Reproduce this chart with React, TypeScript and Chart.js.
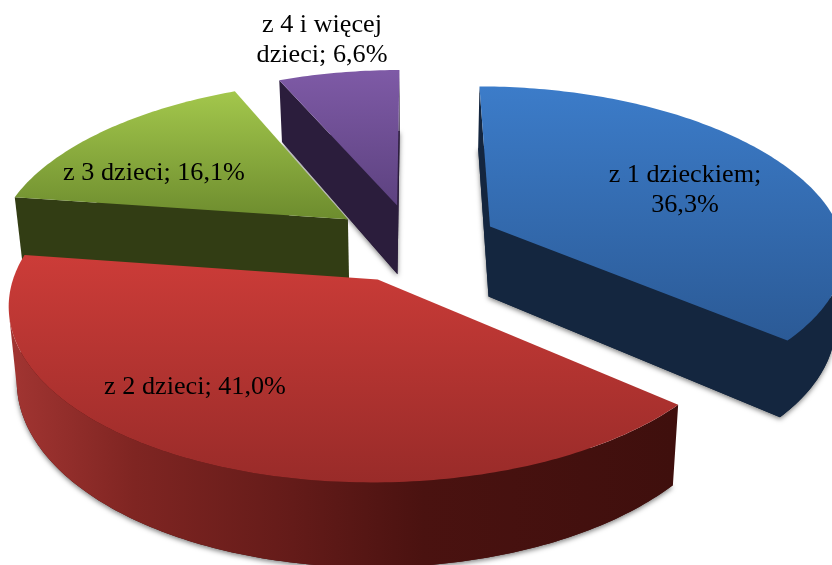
import React, { useEffect, useRef } from "react";
import { Chart, registerables } from "chart.js";

Chart.register(...registerables);

const categories = ["z 1 dzieckiem", "z 2 dzieci", "z 3 dzieci", "z 4 i więcej dzieci"];
const shares = [36.3, 41.0, 16.1, 6.6];
const labelLines = [
  ["z 1 dzieckiem;", "36,3%"],
  ["z 2 dzieci; 41,0%"],
  ["z 3 dzieci; 16,1%"],
  ["z 4 i więcej", "dzieci; 6,6%"],
];
const labelAnchors = [
  [685, 182],
  [195, 394],
  [154, 180],
  [322, 32],
];
const topFrom = ["#3c7cc9", "#cc3c38", "#a3c74c", "#7e5aa6"];
const topTo = ["#2b5a96", "#992b29", "#6d8c2e", "#5d4280"];
const wallColors = ["#14263f", "#43100e", "#323d14", "#2b1d3c"];
const redWallStops: [number, string][] = [
  [0, "#a03431"],
  [0.18, "#7f2522"],
  [0.42, "#641b19"],
  [0.62, "#4a1210"],
  [1, "#3f0f0d"],
];
const drawOrder = [3, 0, 2, 1];

const CX = 414;
const CY = 242.5;
const RADIUS = 354;
const SQUASH_BACK = 0.46;
const SQUASH_FRONT = 0.465;
const PERSP = 0.00038;
const DEPTH = 71;
const SHRINK = 0.02;
const EXPLODE = 85;

type P = [number, number];

function project(u: number, v: number, z: number): P {
  const w = 1 / (1 - PERSP * v);
  const wx = v < 0 ? Math.pow(w, 1.2) : w;
  const f = 1 - (SHRINK * z) / DEPTH;
  const s = v < 0 ? SQUASH_BACK : SQUASH_FRONT;
  return [CX + u * wx * f, CY + (s * v + z) * w];
}

function addPoly(ctx: CanvasRenderingContext2D, pts: P[]) {
  pts.forEach((p, i) => (i ? ctx.lineTo(p[0], p[1]) : ctx.moveTo(p[0], p[1])));
  ctx.closePath();
}

function area(pts: P[]) {
  let s = 0;
  for (let i = 0; i < pts.length; i++) {
    const a = pts[i];
    const b = pts[(i + 1) % pts.length];
    s += a[0] * b[1] - b[0] * a[1];
  }
  return s;
}

const pie3d = {
  id: "pie3d",
  beforeDatasetDraw(chart: any) {
    const ctx: CanvasRenderingContext2D = chart.ctx;
    const arcs = chart.getDatasetMeta(0).data;
    const outlines = arcs.map((el: any) => {
      const t0 = el.startAngle + Math.PI / 2;
      const t1 = el.endAngle + Math.PI / 2;
      const mid = (t0 + t1) / 2;
      const ou = Math.sin(mid) * el.options.offset;
      const ov = -Math.cos(mid) * el.options.offset;
      const n = Math.max(8, Math.round((t1 - t0) * 60));
      const pts: P[] = [[ou, ov]];
      for (let i = 0; i <= n; i++) {
        const t = t0 + ((t1 - t0) * i) / n;
        pts.push([ou + Math.sin(t) * RADIUS, ov - Math.cos(t) * RADIUS]);
      }
      return pts;
    });

    ctx.save();
    for (const i of drawOrder) {
      const world = outlines[i];
      const top: P[] = world.map((p: P) => project(p[0], p[1], 0));
      const bottom: P[] = world.map((p: P) => project(p[0], p[1], DEPTH));
      const ys = top.map((p) => p[1]);
      const xs = bottom.map((p) => p[0]);

      ctx.save();
      ctx.shadowColor = "rgba(0,0,0,0.5)";
      ctx.shadowBlur = 5;
      ctx.shadowOffsetX = 0;
      ctx.shadowOffsetY = 2;
      ctx.fillStyle = wallColors[i];
      ctx.beginPath();
      addPoly(ctx, bottom);
      ctx.fill();
      ctx.restore();

      let wall: any = wallColors[i];
      if (i === 1) {
        wall = ctx.createLinearGradient(Math.min(...xs), 0, Math.max(...xs), 0);
        redWallStops.forEach(([o, c]) => wall.addColorStop(o, c));
      }
      ctx.fillStyle = wall;
      ctx.beginPath();
      for (let k = 0; k < top.length; k++) {
        const k2 = (k + 1) % top.length;
        const quad = [top[k], top[k2], bottom[k2], bottom[k]];
        if (area(quad) < 0) addPoly(ctx, quad);
      }
      ctx.fill();

      const g = ctx.createLinearGradient(0, Math.min(...ys), 0, Math.max(...ys));
      g.addColorStop(0, topFrom[i]);
      g.addColorStop(1, topTo[i]);
      ctx.fillStyle = g;
      ctx.beginPath();
      addPoly(ctx, top);
      ctx.fill();
    }
    ctx.restore();
    return false;
  },
  afterDraw(chart: any) {
    const ctx: CanvasRenderingContext2D = chart.ctx;
    ctx.save();
    ctx.fillStyle = "#000000";
    ctx.font = '26.2px "Liberation Serif"';
    ctx.textAlign = "center";
    ctx.textBaseline = "alphabetic";
    labelLines.forEach((lines, i) => {
      lines.forEach((line, j) => {
        ctx.fillText(line, labelAnchors[i][0], labelAnchors[i][1] + j * 30);
      });
    });
    ctx.restore();
  },
};

export default function App() {
  const ref = useRef<HTMLCanvasElement>(null);
  useEffect(() => {
    const chart = new Chart(ref.current as HTMLCanvasElement, {
      type: "pie",
      data: {
        labels: categories,
        datasets: [
          {
            data: shares,
            backgroundColor: topFrom,
            borderWidth: 0,
            offset: EXPLODE,
          },
        ],
      },
      options: {
        responsive: false,
        animation: false,
        plugins: { legend: { display: false }, tooltip: { enabled: false } },
      },
      plugins: [pie3d],
    } as any);
    return () => chart.destroy();
  }, []);
  return (
    <div style={{ position: "fixed", left: 0, top: 0, width: 832, height: 565, background: "#fff" }}>
      <canvas ref={ref} width={832} height={565} style={{ display: "block" }} />
    </div>
  );
}
